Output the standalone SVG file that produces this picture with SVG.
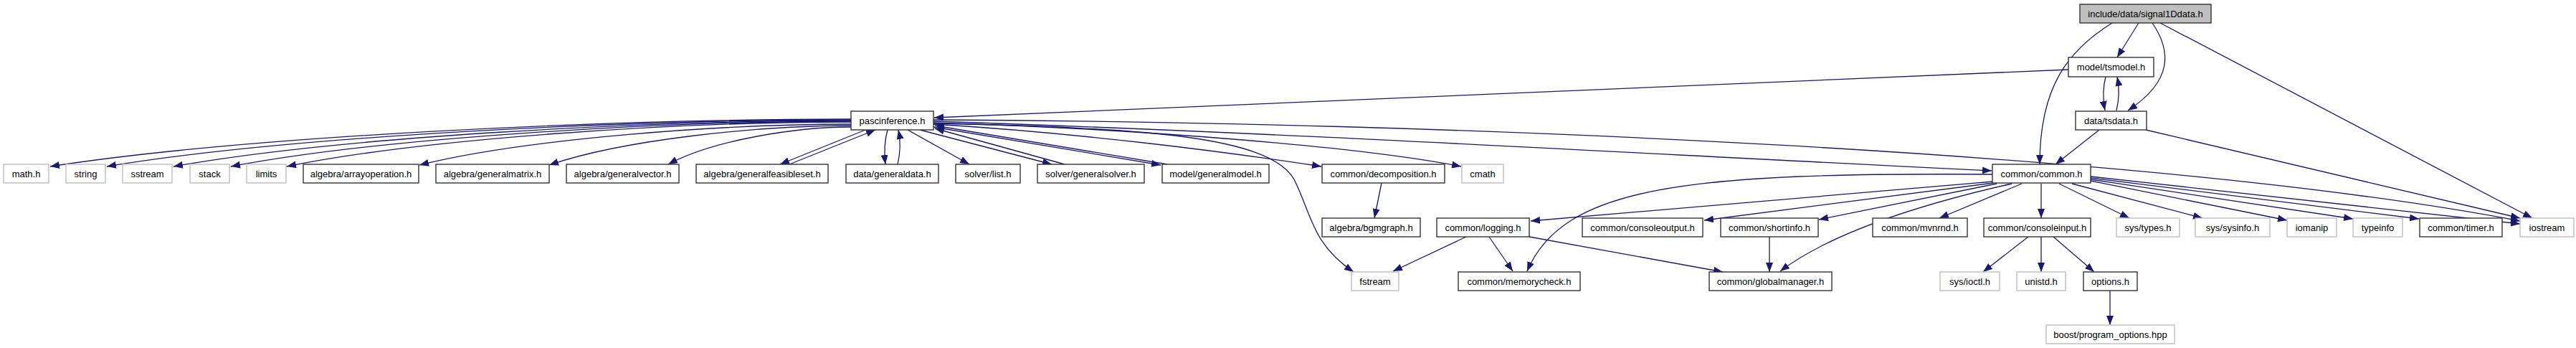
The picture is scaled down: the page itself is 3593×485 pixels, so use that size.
<svg xmlns="http://www.w3.org/2000/svg" width="3593" height="485" viewBox="0 0 3593 485">
<style>
.n rect{fill:#ffffff;stroke:#333333;stroke-width:1.4}
.s rect{fill:#ffffff;stroke:#bfbfbf;stroke-width:1.4}
.m rect{fill:#bfbfbf;stroke:#333333;stroke-width:1.4}
text{font-family:"Liberation Sans",Arial,Helvetica,sans-serif;font-size:13px;fill:#000;text-anchor:middle}
#edges path{fill:none;stroke:#191970;stroke-width:1.3;marker-end:url(#a)}
</style>
<defs>
<marker id="a" markerWidth="13" markerHeight="10" refX="13" refY="5" orient="auto" markerUnits="userSpaceOnUse">
<path d="M0,0 L13,5 L0,10 z" fill="#191970"/>
</marker>
</defs>
<rect x="0" y="0" width="3593" height="485" fill="#ffffff"/>
<g id="edges">
<path d="M2946,32 C2885,70 2845,120 2845,229"/>
<path d="M2983,32 L2953,80"/>
<path d="M3002,32 C3028,70 3032,112 2968,154"/>
<path d="M3013,32 L3532,304"/>
<path d="M2885,97 L1303,164"/>
<path d="M2937,107 C2933,122 2933,138 2936,154"/>
<path d="M2952,154 C2956,138 2956,122 2953,107"/>
<path d="M2928,181 L2867,229"/>
<path d="M2993,181 L3515,304"/>
<path d="M1187,166 C852,166 349,189 70,232"/>
<path d="M1187,167 C876,167 408,189 149,232"/>
<path d="M1187,168 C904,168 478,190 242,232"/>
<path d="M1187,169 C927,169 538,191 322,232"/>
<path d="M1187,170 C950,170 597,192 400,232"/>
<path d="M1187,173 C1006,173 735,193 585,230"/>
<path d="M1187,175 C1061,175 871,194 766,230"/>
<path d="M1187,177 C1111,177 995,195 932,229"/>
<path d="M1207,181 L1088,229"/>
<path d="M1101,229 L1221,181"/>
<path d="M1238,181 C1234,195 1233,212 1235,229"/>
<path d="M1252,229 C1256,212 1256,195 1253,181"/>
<path d="M1266,181 L1352,229"/>
<path d="M1283,181 L1467,229"/>
<path d="M1485,229 L1304,179"/>
<path d="M1302,177 L1619,230"/>
<path d="M1628,229 L1304,175"/>
<path d="M1302,173 C1500,185 1700,210 1843,232"/>
<path d="M1302,171 C1600,180 1900,205 2038,232"/>
<path d="M1302,172 C1600,178 1770,190 1805,250 C1830,300 1830,340 1888,379"/>
<path d="M1302,169 C1800,185 2300,215 2778,238"/>
<path d="M1302,167 C2000,170 3000,210 3515,308"/>
<path d="M1927,255 L1917,304"/>
<path d="M2780,253 L2135,308"/>
<path d="M2780,255 L2377,307"/>
<path d="M2785,256 L2537,306"/>
<path d="M2779,243 C2350,240 2180,260 2130,378"/>
<path d="M2806,256 C2700,280 2560,320 2483,378"/>
<path d="M2820,256 L2705,304"/>
<path d="M2847,256 L2847,304"/>
<path d="M2872,256 L2970,304"/>
<path d="M2890,256 L3072,304"/>
<path d="M2916,252 L3190,307"/>
<path d="M2916,250 L3282,305"/>
<path d="M2916,248 L3374,305"/>
<path d="M2916,246 L3515,312"/>
<path d="M2045,330 L1943,378"/>
<path d="M2077,330 L2110,378"/>
<path d="M2133,330 L2403,379"/>
<path d="M2468,330 L2468,379"/>
<path d="M2829,330 L2766,379"/>
<path d="M2847,330 L2847,379"/>
<path d="M2864,330 L2921,379"/>
<path d="M2943,404 L2943,453"/>
</g>
<g id="signal1Ddata" class="m"><rect x="2901" y="6" width="183" height="26"/><text x="2992.5" y="23.5">include/data/signal1Ddata.h</text></g>
<g id="tsmodel" class="n"><rect x="2885" y="80" width="119" height="27"/><text x="2944.5" y="98">model/tsmodel.h</text></g>
<g id="pascinference" class="n"><rect x="1187" y="155" width="115" height="26"/><text x="1244.5" y="172.5">pascinference.h</text></g>
<g id="tsdata" class="n"><rect x="2895" y="155" width="99" height="26"/><text x="2944.5" y="172.5">data/tsdata.h</text></g>
<g id="math" class="s"><rect x="5" y="229" width="63" height="26"/><text x="36.5" y="246.5">math.h</text></g>
<g id="string" class="s"><rect x="92" y="229" width="55" height="26"/><text x="119.5" y="246.5">string</text></g>
<g id="sstream" class="s"><rect x="171" y="229" width="69" height="26"/><text x="205.5" y="246.5">sstream</text></g>
<g id="stack" class="s"><rect x="265" y="229" width="55" height="26"/><text x="292.5" y="246.5">stack</text></g>
<g id="limits" class="s"><rect x="344" y="229" width="55" height="26"/><text x="371.5" y="246.5">limits</text></g>
<g id="arrayoperation" class="n"><rect x="423" y="229" width="161" height="26"/><text x="503.5" y="246.5">algebra/arrayoperation.h</text></g>
<g id="generalmatrix" class="n"><rect x="608" y="229" width="158" height="26"/><text x="687" y="246.5">algebra/generalmatrix.h</text></g>
<g id="generalvector" class="n"><rect x="790" y="229" width="157" height="26"/><text x="868.5" y="246.5">algebra/generalvector.h</text></g>
<g id="generalfeasibleset" class="n"><rect x="971" y="229" width="184" height="26"/><text x="1063" y="246.5">algebra/generalfeasibleset.h</text></g>
<g id="generaldata" class="n"><rect x="1180" y="229" width="129" height="26"/><text x="1244.5" y="246.5">data/generaldata.h</text></g>
<g id="list" class="n"><rect x="1333" y="229" width="90" height="26"/><text x="1378" y="246.5">solver/list.h</text></g>
<g id="generalsolver" class="n"><rect x="1447" y="229" width="149" height="26"/><text x="1521.5" y="246.5">solver/generalsolver.h</text></g>
<g id="generalmodel" class="n"><rect x="1621" y="229" width="149" height="26"/><text x="1695.5" y="246.5">model/generalmodel.h</text></g>
<g id="decomposition" class="n"><rect x="1844" y="229" width="171" height="26"/><text x="1929.5" y="246.5">common/decomposition.h</text></g>
<g id="cmath" class="s"><rect x="2039" y="229" width="58" height="26"/><text x="2068" y="246.5">cmath</text></g>
<g id="common" class="n"><rect x="2779" y="229" width="137" height="26"/><text x="2847.5" y="246.5">common/common.h</text></g>
<g id="bgmgraph" class="n"><rect x="1844" y="304" width="137" height="26"/><text x="1912.5" y="321.5">algebra/bgmgraph.h</text></g>
<g id="logging" class="n"><rect x="2004" y="304" width="129" height="26"/><text x="2068.5" y="321.5">common/logging.h</text></g>
<g id="consoleoutput" class="n"><rect x="2207" y="304" width="168" height="26"/><text x="2291" y="321.5">common/consoleoutput.h</text></g>
<g id="shortinfo" class="n"><rect x="2400" y="304" width="136" height="26"/><text x="2468" y="321.5">common/shortinfo.h</text></g>
<g id="mvnrnd" class="n"><rect x="2612" y="304" width="132" height="26"/><text x="2678" y="321.5">common/mvnrnd.h</text></g>
<g id="consoleinput" class="n"><rect x="2767" y="304" width="149" height="26"/><text x="2841.5" y="321.5">common/consoleinput.h</text></g>
<g id="systypes" class="s"><rect x="2952" y="304" width="88" height="26"/><text x="2996" y="321.5">sys/types.h</text></g>
<g id="syssysinfo" class="s"><rect x="3062" y="304" width="104" height="26"/><text x="3114" y="321.5">sys/sysinfo.h</text></g>
<g id="iomanip" class="s"><rect x="3190" y="304" width="69" height="26"/><text x="3224.5" y="321.5">iomanip</text></g>
<g id="typeinfo" class="s"><rect x="3282" y="304" width="69" height="26"/><text x="3316.5" y="321.5">typeinfo</text></g>
<g id="timer" class="n"><rect x="3375" y="304" width="115" height="26"/><text x="3432.5" y="321.5">common/timer.h</text></g>
<g id="iostream" class="s"><rect x="3515" y="304" width="75" height="26"/><text x="3552.5" y="321.5">iostream</text></g>
<g id="fstream" class="s"><rect x="1885" y="379" width="66" height="26"/><text x="1918" y="396.5">fstream</text></g>
<g id="memorycheck" class="n"><rect x="2034" y="379" width="170" height="26"/><text x="2119" y="396.5">common/memorycheck.h</text></g>
<g id="globalmanager" class="n"><rect x="2384" y="379" width="171" height="26"/><text x="2469.5" y="396.5">common/globalmanager.h</text></g>
<g id="sysioctl" class="s"><rect x="2706" y="379" width="83" height="26"/><text x="2747.5" y="396.5">sys/ioctl.h</text></g>
<g id="unistd" class="s"><rect x="2813" y="379" width="68" height="26"/><text x="2847" y="396.5">unistd.h</text></g>
<g id="options" class="n"><rect x="2906" y="379" width="75" height="26"/><text x="2943.5" y="396.5">options.h</text></g>
<g id="boost" class="s"><rect x="2854" y="453" width="179" height="26"/><text x="2943.5" y="470.5">boost/program_options.hpp</text></g>
</svg>
